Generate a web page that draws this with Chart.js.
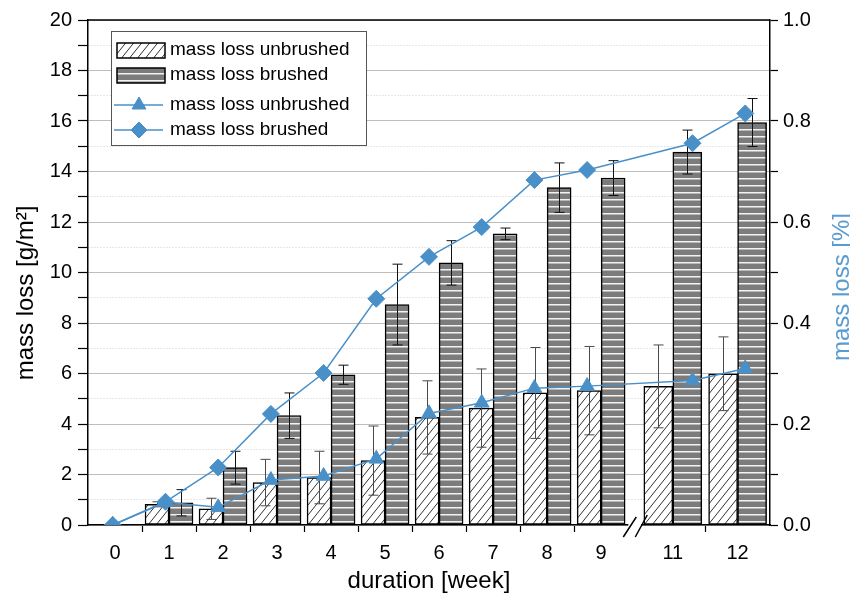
<!DOCTYPE html>
<html>
<head>
<meta charset="utf-8">
<script src="https://cdn.jsdelivr.net/npm/chart.js@4.4.1/dist/chart.umd.min.js"></script>
<style>
  html, body { margin: 0; padding: 0; background: #fff; }
  #wrap { width: 850px; height: 596px; }
</style>
</head>
<body>
<div id="wrap"><canvas id="chart"></canvas></div>
<script>
// --- Data ---
const weeks = [0, 1, 2, 3, 4, 5, 6, 7, 8, 9, 11, 12];

// mass loss [g/m²], bars
const lossUnbrushed = [0, 0.82, 0.64, 1.68, 1.88, 2.55, 4.26, 4.63, 5.23, 5.32, 5.49, 5.99];
const errUnbrushed  = [0, 0.10, 0.42, 0.92, 1.04, 1.37, 1.45, 1.55, 1.80, 1.75, 1.64, 1.46];
const lossBrushed   = [0, 0.88, 2.27, 4.33, 5.95, 8.73, 10.38, 11.53, 13.36, 13.74, 14.77, 15.94];
const errBrushed    = [0, 0.52, 0.65, 0.90, 0.38, 1.60, 0.88, 0.23, 0.98, 0.69, 0.87, 0.95];

// mass loss [%], lines
const pctUnbrushed = [0, 0.045, 0.035, 0.089, 0.097, 0.131, 0.221, 0.242, 0.271, 0.275, 0.286, 0.310];
const pctBrushed   = [0, 0.046, 0.114, 0.220, 0.301, 0.448, 0.531, 0.590, 0.683, 0.703, 0.756, 0.815];

// --- Look ---
const FONT = "'Liberation Sans', Arial, Helvetica, sans-serif";
const BLUE = '#4a90c8';
const TITLE_BLUE = '#5a9bd0';

// axis break of the bar axis: weeks 9.5 .. 10.5 squeezed into a small gap
const BREAK_FROM = 9.5, BREAK_TO = 10.5;
const LEFT_SHARE = 0.792, GAP_SHARE = 0.018;

Chart.defaults.font.family = FONT;
Chart.defaults.font.size = 20;
Chart.defaults.color = '#000';

// linear scale with a piecewise mapping (axis break)
class BrokenLinearScale extends Chart.LinearScale {
  toDecimal(v) {
    const lo = this.min, hi = this.max;
    if (v <= BREAK_FROM) return (v - lo) / (BREAK_FROM - lo) * LEFT_SHARE;
    if (v >= BREAK_TO) return LEFT_SHARE + GAP_SHARE + (v - BREAK_TO) / (hi - BREAK_TO) * (1 - LEFT_SHARE - GAP_SHARE);
    return LEFT_SHARE + (v - BREAK_FROM) / (BREAK_TO - BREAK_FROM) * GAP_SHARE;
  }
  getPixelForValue(v) {
    if (v === null || v === undefined) return NaN;
    return this.getPixelForDecimal(this.toDecimal(v));
  }
  getValueForPixel(p) {
    const d = this.getDecimalForPixel(p);
    const lo = this.min, hi = this.max;
    if (d <= LEFT_SHARE) return lo + d / LEFT_SHARE * (BREAK_FROM - lo);
    if (d >= LEFT_SHARE + GAP_SHARE) return BREAK_TO + (d - LEFT_SHARE - GAP_SHARE) / (1 - LEFT_SHARE - GAP_SHARE) * (hi - BREAK_TO);
    return BREAK_FROM + (d - LEFT_SHARE) / GAP_SHARE * (BREAK_TO - BREAK_FROM);
  }
}
BrokenLinearScale.id = 'brokenLinear';
BrokenLinearScale.defaults = Chart.LinearScale.defaults;
Chart.register(BrokenLinearScale);

// tick marks sit between neighbouring weeks, labels on the weeks
const xTickValues = weeks.slice();
weeks.forEach((w, i) => {
  if (i < weeks.length - 1 && weeks[i + 1] - w === 1) xTickValues.push(w + 0.5);
});
xTickValues.sort((a, b) => a - b);

// --- Fill patterns ---
const canvas = document.getElementById('chart');
const ctx = canvas.getContext('2d');

function makeHatch() {
  const c = document.createElement('canvas');
  c.width = 8; c.height = 10;
  const g = c.getContext('2d');
  g.fillStyle = '#fff';
  g.fillRect(0, 0, 8, 10);
  g.strokeStyle = '#333';
  g.lineWidth = 1;
  g.beginPath();
  g.moveTo(0, 10); g.lineTo(8, 0);
  g.moveTo(-1, 1.25); g.lineTo(1, -1.25);
  g.moveTo(7, 11.25); g.lineTo(9, 8.75);
  g.stroke();
  return ctx.createPattern(c, 'repeat');
}

function makeStripes() {
  const c = document.createElement('canvas');
  c.width = 4; c.height = 7;
  const g = c.getContext('2d');
  g.fillStyle = '#7c7c7c';
  g.fillRect(0, 0, 4, 7);
  g.fillStyle = '#f2f2f2';
  g.fillRect(0, 3, 4, 1);
  g.fillStyle = '#b8b8b8';
  g.fillRect(0, 4, 4, 1);
  return ctx.createPattern(c, 'repeat');
}

const hatch = makeHatch();
const stripes = makeStripes();

// bars left and right of the break get their own thickness
function segment(values, left) {
  return weeks.map((w, i) => ({ x: w, y: (w < BREAK_FROM) === left ? values[i] : null }));
}
function points(values) {
  return weeks.map((w, i) => ({ x: w, y: values[i] }));
}

function barSet(label, values, errors, fill, errColor, left) {
  return {
    type: 'bar',
    label: label,
    data: segment(values, left),
    errors: errors,
    errorColor: errColor,
    xAxisID: 'x',
    yAxisID: 'y',
    backgroundColor: fill,
    borderColor: '#000',
    borderWidth: 1.5,
    borderSkipped: false,
    barThickness: left ? 24 : 29,
    skipNull: true
  };
}

const datasets = [
  {
    type: 'line', label: 'mass loss unbrushed', data: points(pctUnbrushed),
    xAxisID: 'x2', yAxisID: 'y2',
    borderColor: BLUE, backgroundColor: BLUE, borderWidth: 1.5,
    pointStyle: 'triangle', pointRadius: 8.5, pointBorderWidth: 1, tension: 0
  },
  {
    type: 'line', label: 'mass loss brushed', data: points(pctBrushed),
    xAxisID: 'x2', yAxisID: 'y2',
    borderColor: BLUE, backgroundColor: BLUE, borderWidth: 1.5,
    pointStyle: 'rectRot', pointRadius: 8.5, pointBorderWidth: 1, tension: 0
  },
  barSet('mass loss unbrushed', lossUnbrushed, errUnbrushed, hatch, '#4a4a4a', true),
  barSet('mass loss brushed', lossBrushed, errBrushed, stripes, '#111', true),
  barSet('mass loss unbrushed', lossUnbrushed, errUnbrushed, hatch, '#4a4a4a', false),
  barSet('mass loss brushed', lossBrushed, errBrushed, stripes, '#111', false)
];

// --- Error bars, frame, axis break, legend, y titles ---
const decorations = {
  id: 'decorations',
  afterDatasetDraw(chart, args) {
    const ds = chart.data.datasets[args.index];
    if (!ds.errors) return;
    const y = chart.scales.y;
    const c = chart.ctx;
    c.save();
    c.strokeStyle = ds.errorColor;
    c.lineWidth = 1;
    args.meta.data.forEach((bar, i) => {
      const v = ds.data[i].y, e = ds.errors[i];
      if (v === null || !e) return;
      const top = y.getPixelForValue(v + e), bot = y.getPixelForValue(v - e);
      const x = Math.round(bar.x) + 0.5;
      c.beginPath();
      c.moveTo(x, top); c.lineTo(x, bot);
      c.moveTo(x - 5, top); c.lineTo(x + 5, top);
      c.moveTo(x - 5, bot); c.lineTo(x + 5, bot);
      c.stroke();
    });
    c.restore();
  },
  afterDraw(chart) {
    const c = chart.ctx;
    const a = chart.chartArea;
    c.save();

    // top frame line
    c.strokeStyle = '#000';
    c.lineWidth = 1.5;
    c.beginPath();
    c.moveTo(a.left, a.top); c.lineTo(a.right, a.top);
    c.stroke();

    // axis break marks
    const bx = chart.scales.x.getPixelForValue((BREAK_FROM + BREAK_TO) / 2);
    c.fillStyle = '#fff';
    c.fillRect(bx - 6, a.bottom - 2, 13, 5);
    c.beginPath();
    c.moveTo(bx - 11, a.bottom + 12); c.lineTo(bx + 2, a.bottom - 8);
    c.moveTo(bx + 1, a.bottom + 12); c.lineTo(bx + 13, a.bottom - 10);
    c.stroke();

    // legend box
    const lx = a.left + 23, ly = a.top + 11, lw = 255, lh = 114;
    c.fillStyle = '#fff';
    c.fillRect(lx, ly, lw, lh);
    c.strokeStyle = '#555';
    c.lineWidth = 1;
    c.strokeRect(lx + 0.5, ly + 0.5, lw, lh);

    const ds = chart.data.datasets;
    const rows = [
      { d: ds[2], y: ly + 19 },
      { d: ds[3], y: ly + 44 },
      { d: ds[0], y: ly + 74 },
      { d: ds[1], y: ly + 99 }
    ];
    c.font = '19px ' + FONT;
    c.textBaseline = 'middle';
    c.textAlign = 'left';
    rows.forEach(r => {
      if (r.d.type === 'bar') {
        c.fillStyle = r.d.backgroundColor;
        c.fillRect(lx + 6, r.y - 7, 48, 15);
        c.strokeStyle = '#000';
        c.lineWidth = 1.5;
        c.strokeRect(lx + 6, r.y - 7, 48, 15);
      } else {
        c.strokeStyle = r.d.borderColor;
        c.lineWidth = 1.5;
        c.beginPath();
        c.moveTo(lx + 3, r.y); c.lineTo(lx + 52, r.y);
        c.stroke();
        c.fillStyle = r.d.backgroundColor;
        c.lineWidth = 1;
        Chart.helpers.drawPoint(c, { pointStyle: r.d.pointStyle, radius: 8, borderWidth: 1, rotation: 0 }, lx + 28, r.y);
      }
      c.fillStyle = '#000';
      c.fillText(r.d.label, lx + 59, r.y);
    });

    // y axis titles, both read bottom to top
    c.font = '24px ' + FONT;
    c.textAlign = 'center';
    c.textBaseline = 'middle';
    c.fillStyle = '#000';
    c.save();
    c.translate(26, 293);
    c.rotate(-Math.PI / 2);
    c.fillText('mass loss [g/m²]', 0, 0);
    c.restore();
    c.save();
    c.fillStyle = TITLE_BLUE;
    c.translate(842, 287);
    c.rotate(-Math.PI / 2);
    c.fillText('mass loss [%]', 0, 0);
    c.restore();

    c.restore();
  }
};

new Chart(ctx, {
  type: 'bar',
  data: { datasets: datasets },
  plugins: [decorations],
  options: {
    responsive: true,
    maintainAspectRatio: false,
    animation: false,
    layout: { padding: { top: 20, left: 0, right: 0, bottom: 0 } },
    plugins: {
      legend: { display: false },
      tooltip: { enabled: false }
    },
    scales: {
      x: {
        type: 'brokenLinear',
        position: 'bottom',
        min: -0.5,
        max: 12.5,
        offset: false,
        afterBuildTicks: s => { s.ticks = xTickValues.map(v => ({ value: v })); },
        afterFit: s => { s.height = 71; },
        ticks: {
          autoSkip: false,
          maxRotation: 0,
          padding: 9,
          callback: v => (weeks.includes(v) ? String(v) : '')
        },
        grid: {
          offset: false,
          drawOnChartArea: false,
          tickLength: 7,
          tickWidth: 1.2,
          tickColor: c => (c.tick && !weeks.includes(c.tick.value) ? '#000' : 'rgba(0,0,0,0)')
        },
        border: { color: '#000', width: 1.5 },
        title: {
          display: true,
          text: 'duration [week]',
          font: { size: 24 },
          padding: { top: 0, bottom: 0 }
        }
      },
      // plain week axis for the two lines (no break), kept invisible
      x2: {
        type: 'linear',
        position: 'bottom',
        min: -0.47,
        max: 12.47,
        offset: false,
        afterFit: s => { s.height = 0; },
        ticks: { display: false },
        grid: { display: false, offset: false },
        border: { display: false }
      },
      y: {
        type: 'linear',
        position: 'left',
        min: 0,
        max: 20,
        afterFit: s => { s.width = 88; },
        ticks: {
          stepSize: 1,
          autoSkip: false,
          padding: 6,
          callback: v => (v % 2 === 0 ? v : '')
        },
        grid: {
          color: c => (c.tick && c.tick.value % 2 === 0 ? '#bdbdbd' : '#cfcfcf'),
          lineWidth: 1,
          tickColor: '#000',
          tickLength: 10,
          tickWidth: 1.2
        },
        border: {
          color: '#000',
          width: 1.5,
          dash: c => (c.tick && c.tick.value % 2 !== 0 ? [1, 2] : [])
        }
      },
      y2: {
        type: 'linear',
        position: 'right',
        min: 0,
        max: 1,
        afterFit: s => { s.width = 80; },
        ticks: {
          stepSize: 0.1,
          autoSkip: false,
          padding: 5,
          callback: v => (Math.round(v * 10) % 2 === 0 ? v.toFixed(1) : '')
        },
        grid: {
          drawOnChartArea: false,
          tickColor: '#000',
          tickLength: 8,
          tickWidth: 1.2
        },
        border: { color: '#000', width: 1.5 }
      }
    }
  }
});
</script>
</body>
</html>
